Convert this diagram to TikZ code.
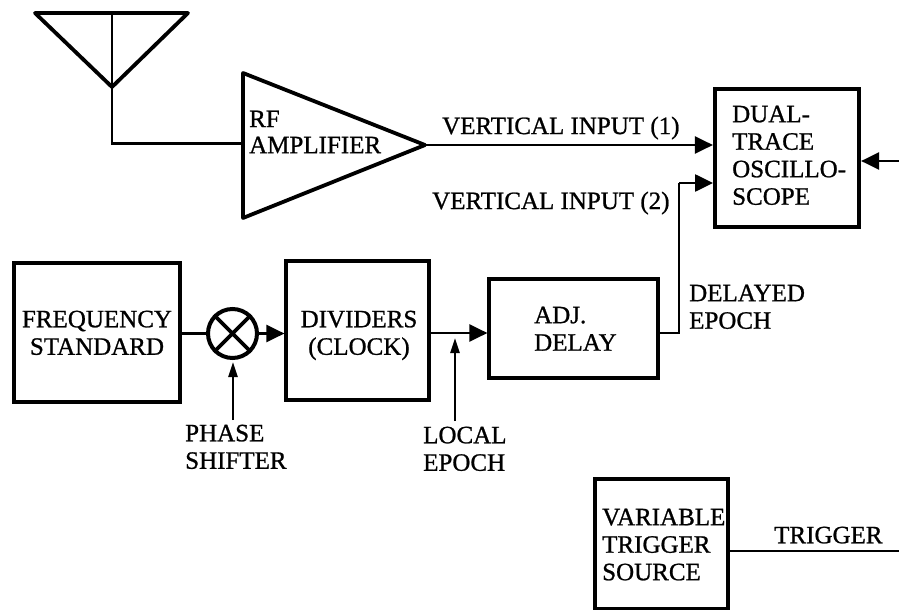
\documentclass[tikz,border=0pt]{standalone}
\usepackage{fontspec}
\setmainfont[FakeBold=0.9]{Liberation Serif}
\usetikzlibrary{arrows.meta}
\tikzset{
 blk/.style={draw,line width=3.8pt,inner sep=0pt},
 lab/.style={inner sep=0pt,align=left,anchor=north west,font=\fontsize{25}{27.5}\selectfont},
 con/.style={line width=2.6pt,-{Triangle[length=18pt,width=17pt]}},
 thin con/.style={line width=2.4pt,-{Triangle[length=15pt,width=9pt]}},
 wire/.style={line width=2.6pt},
}
\begin{document}
\begin{tikzpicture}[x=1pt,y=-1pt]
\useasboundingbox (0,0) rectangle (899,610);
% antenna
\coordinate (ant) at (112,87);
\coordinate (antT) at (112,13);
\coordinate (amphook) at (112,143.5);
\draw[line width=3.8pt,line join=round] (35,13) -- (188,13) -- (ant) -- cycle;
\draw[wire,line width=2.8pt] (antT) -- (ant);
% RF amp
\coordinate (ampA) at (243,73);
\coordinate (ampB) at (243,218);
\coordinate (amptip) at (425,145);
\coordinate (ampin) at (243,143.5);
\draw[line width=3.8pt,line join=round] (ampA) -- (amptip) -- (ampB) -- cycle;
\node[lab] (rf) at (249,110.5) {RF};
\node[lab] (amp) at (249,136.5) {AMPLIFIER};
\draw[wire] (ant) -- (amphook) -- (ampin);
% scope
\node[blk,minimum width=144.4pt,minimum height=138.4pt] (scope) at (787,158) {};
\node[lab] (scopet) at (732,105.5) {DUAL-\\TRACE\\OSCILLO-\\SCOPE};
\coordinate (s1) at (amptip -| scope.west);
\coordinate (s2) at (713,183);
\draw[con] (amptip) -- (s1);
\node[lab] (v1) at (442,116.5) {VERTICAL INPUT (1)};
\node[lab] (v2) at (432,191.5) {VERTICAL INPUT (2)};
\coordinate (edge) at (899,161);
\draw[con] (edge) -- (edge -| scope.east);
% row
\node[blk,minimum width=165.4pt,minimum height=139.4pt] (fs) at (97,332.5) {};
\node[lab,align=center,anchor=north] (fst) at (97,310.5) {FREQUENCY\\STANDARD};
\node[circle,draw,line width=4pt,minimum size=49pt,inner sep=0pt] (mix) at (232.5,333.5) {};
\draw[line width=3.6pt] (mix.north west) -- (mix.south east) (mix.north east) -- (mix.south west);
\node[blk,minimum width=142.4pt,minimum height=139.4pt] (div) at (357.5,330.5) {};
\node[lab,align=center,anchor=north] (divt) at (359,310.5) {DIVIDERS\\(CLOCK)};
\node[blk,minimum width=168.4pt,minimum height=99.4pt] (delay) at (573.5,328.5) {};
\node[lab] (delayt) at (534,306.5) {ADJ.\\DELAY};
\coordinate (jn) at (431,333);
\draw[wire] (fs.east |- mix.west) -- (mix.west);
\draw[con] (mix.east) -- (div.west |- mix.east);
\draw[con] (jn) -- (jn -| delay.west);
\coordinate (bend1) at (679,333);
\coordinate (bend2) at (679,183);
\draw[wire] (bend1 -| delay.east) -- (bend1) -- (bend2);
\draw[con] (bend2) -- (s2);
\node[lab] (de) at (689,284.5) {DELAYED\\EPOCH};
% phase shifter
\coordinate (ps) at (233,420);
\coordinate (pst) at (233,362);
\draw[thin con] (ps) -- (pst);
\node[lab] (psl) at (185,424.5) {PHASE\\SHIFTER};
\coordinate (le) at (455,421);
\coordinate (let) at (455,338);
\draw[thin con] (le) -- (let);
\node[lab] (lel) at (423,426.5) {LOCAL\\EPOCH};
% trigger
\node[blk,minimum width=133.4pt,minimum height=130.2pt] (trig) at (661.5,543.9) {};
\node[lab] (trigt) at (602,508.5) {VARIABLE\\TRIGGER\\SOURCE};
\coordinate (tend) at (899,551);
\draw[wire] (trig.east |- tend) -- (tend);
\node[lab] (tt) at (774,526.5) {TRIGGER};
\end{tikzpicture}
\end{document}
